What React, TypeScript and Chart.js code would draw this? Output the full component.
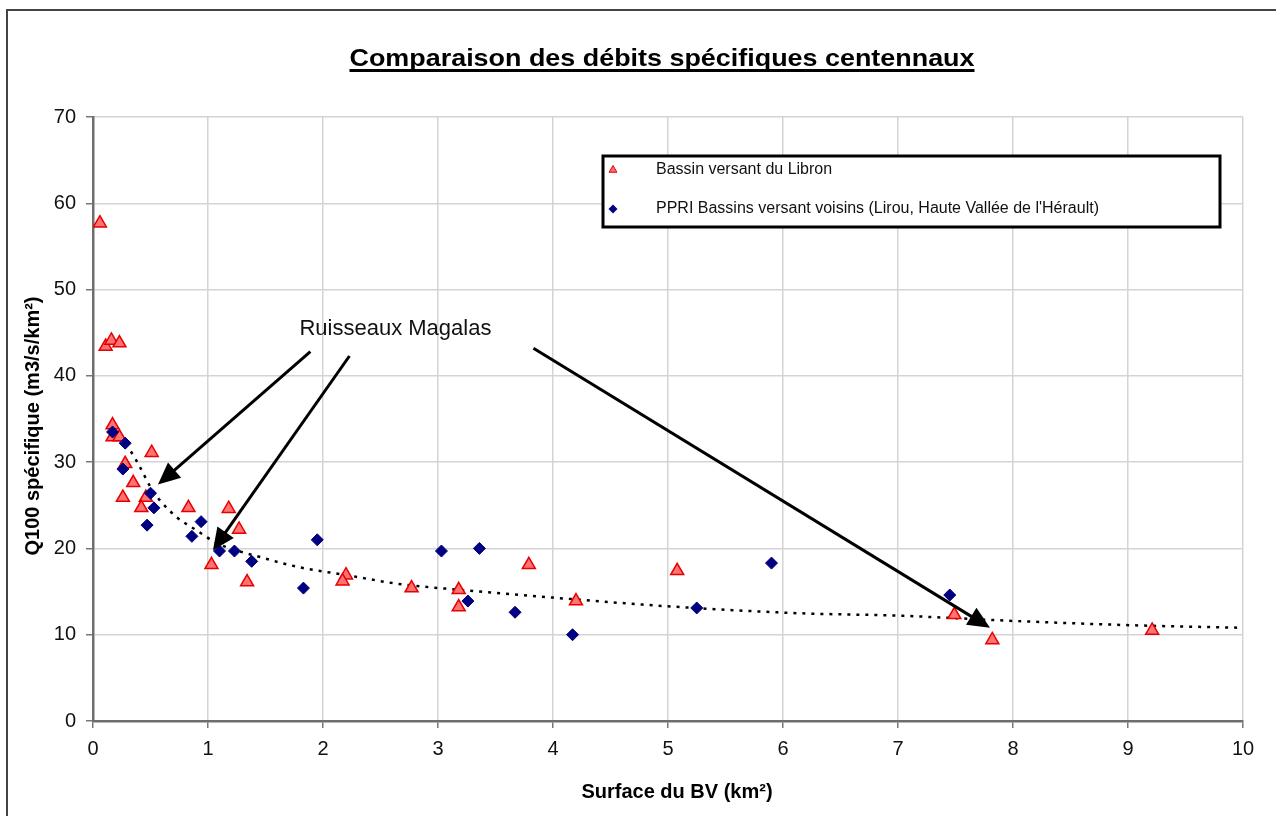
import React, { useEffect, useRef } from "react";
import { Chart, registerables } from "chart.js";

Chart.register(...registerables);

// ---- Data ----
const titleText = "Comparaison des débits spécifiques centennaux";
const xAxisTitle = "Surface du BV (km²)";
const yAxisTitle = "Q100 spécifique (m3/s/km²)";
const libronLabel = "Bassin versant du Libron";
const ppriLabel = "PPRI Bassins versant voisins (Lirou, Haute Vallée de l'Hérault)";
const annotationText = "Ruisseaux Magalas";

const libronX = [0.06, 0.11, 0.16, 0.23, 0.17, 0.17, 0.23, 0.28, 0.51, 0.35, 0.26, 0.46, 0.42, 0.83, 1.18, 1.27, 1.03, 1.34, 2.2, 2.17, 2.77, 3.18, 3.18, 3.79, 4.2, 5.08, 7.49, 7.82, 9.21];
const libronY = [57.7, 43.4, 44.1, 43.8, 34.3, 32.9, 32.9, 29.8, 31.1, 27.6, 25.9, 25.9, 24.7, 24.7, 24.6, 22.2, 18.1, 16.1, 16.9, 16.2, 15.4, 15.2, 13.2, 18.1, 13.9, 17.4, 12.3, 9.4, 10.5];

const ppriX = [0.17, 0.28, 0.26, 0.5, 0.53, 0.47, 0.94, 0.86, 1.1, 1.23, 1.38, 1.95, 1.83, 3.03, 3.36, 3.26, 3.67, 4.17, 5.25, 5.9, 7.45];
const ppriY = [33.5, 32.2, 29.2, 26.4, 24.7, 22.7, 23.1, 21.4, 19.7, 19.7, 18.5, 21.0, 15.4, 19.7, 20.0, 13.9, 12.6, 10.0, 13.1, 18.3, 14.6];

const trendX = [0.17, 0.32, 0.41, 0.5, 0.58, 0.73, 0.9, 1.08, 1.48, 1.8, 2.21, 2.65, 3.19, 4.0, 4.99, 6.12, 7.02, 8.0, 9.02, 10];
const trendY = [33.5, 31.4, 29.4, 27.1, 25.6, 23.6, 22.1, 20.6, 18.9, 17.8, 16.9, 15.9, 15.2, 14.3, 13.3, 12.5, 12.2, 11.6, 11.1, 10.8];

// arrows (data coordinates): start -> tip
const arrowFromX = [1.89, 2.23, 3.83];
const arrowFromY = [42.8, 42.3, 43.2];
const arrowToX = [0.565, 1.043, 7.8];
const arrowToY = [27.4, 19.8, 10.8];
const annotationX = 2.63;
const annotationY = 45.4;

const xTicks = [0, 1, 2, 3, 4, 5, 6, 7, 8, 9, 10];
const yTicks = [0, 10, 20, 30, 40, 50, 60, 70];

const FONT = "'Liberation Sans', Arial, sans-serif";

const toPoints = (xs: number[], ys: number[]) => xs.map((x, i) => ({ x, y: ys[i] }));

function drawArrow(ctx: CanvasRenderingContext2D, x1: number, y1: number, x2: number, y2: number) {
  const ang = Math.atan2(y2 - y1, x2 - x1);
  const headLen = 22;
  const headHalf = 10;
  const bx = x2 - Math.cos(ang) * headLen;
  const by = y2 - Math.sin(ang) * headLen;
  ctx.save();
  ctx.strokeStyle = "#000";
  ctx.fillStyle = "#000";
  ctx.lineWidth = 3;
  ctx.beginPath();
  ctx.moveTo(x1, y1);
  ctx.lineTo(bx + Math.cos(ang) * 2, by + Math.sin(ang) * 2);
  ctx.stroke();
  ctx.beginPath();
  ctx.moveTo(x2, y2);
  ctx.lineTo(bx + Math.sin(ang) * headHalf, by - Math.cos(ang) * headHalf);
  ctx.lineTo(bx - Math.sin(ang) * headHalf, by + Math.cos(ang) * headHalf);
  ctx.closePath();
  ctx.fill();
  ctx.restore();
}

function fitText(ctx: CanvasRenderingContext2D, text: string, cx: number, y: number, targetW: number) {
  const w = ctx.measureText(text).width;
  const s = targetW / w;
  ctx.save();
  ctx.translate(cx, y);
  ctx.scale(s, 1);
  ctx.textAlign = "center";
  ctx.fillText(text, 0, 0);
  ctx.restore();
}

const decorPlugin = {
  id: "decor",
  beforeDraw(chart: any) {
    const ctx = chart.ctx as CanvasRenderingContext2D;
    ctx.save();
    ctx.fillStyle = "#fff";
    ctx.fillRect(0, 0, chart.width, chart.height);
    ctx.restore();
  },
  afterDraw(chart: any) {
    const ctx = chart.ctx as CanvasRenderingContext2D;
    const xs = chart.scales.x;
    const ys = chart.scales.y;
    ctx.save();

    // outer frame
    ctx.strokeStyle = "#444";
    ctx.lineWidth = 2;
    ctx.beginPath();
    ctx.moveTo(chart.width, 10);
    ctx.lineTo(7, 10);
    ctx.lineTo(7, chart.height);
    ctx.stroke();

    // title
    ctx.fillStyle = "#000";
    ctx.font = `bold 24px ${FONT}`;
    ctx.textBaseline = "alphabetic";
    const tcx = 662;
    const titleW = 625;
    fitText(ctx, titleText, tcx, 66, titleW);
    ctx.fillRect(tcx - titleW / 2, 69, titleW, 3);

    // axis titles
    ctx.font = `bold 20px ${FONT}`;
    ctx.textBaseline = "middle";
    ctx.textAlign = "center";
    ctx.fillText(xAxisTitle, 677, 792);
    ctx.save();
    ctx.translate(33, 426);
    ctx.rotate(-Math.PI / 2);
    ctx.fillText(yAxisTitle, 0, 0);
    ctx.restore();

    // legend box
    const lx = 603, ly = 156, lw = 617, lh = 71;
    ctx.fillStyle = "#fff";
    ctx.fillRect(lx, ly, lw, lh);
    ctx.strokeStyle = "#000";
    ctx.lineWidth = 3;
    ctx.strokeRect(lx, ly, lw, lh);
    // legend markers
    const r = 4.5;
    ctx.lineWidth = 1;
    ctx.fillStyle = "rgba(255,110,110,1)";
    ctx.strokeStyle = "#e00000";
    ctx.beginPath();
    ctx.moveTo(613, 170 - r);
    ctx.lineTo(613 + r * 0.87, 170 + r / 2);
    ctx.lineTo(613 - r * 0.87, 170 + r / 2);
    ctx.closePath();
    ctx.fill();
    ctx.stroke();
    ctx.fillStyle = "#000080";
    ctx.beginPath();
    ctx.moveTo(613, 209 - r);
    ctx.lineTo(613 + r, 209);
    ctx.lineTo(613, 209 + r);
    ctx.lineTo(613 - r, 209);
    ctx.closePath();
    ctx.fill();
    // legend text
    ctx.fillStyle = "#111";
    ctx.font = `16px ${FONT}`;
    ctx.textAlign = "left";
    ctx.textBaseline = "middle";
    ctx.fillText(libronLabel, 656, 170);
    ctx.fillText(ppriLabel, 656, 209);

    // annotation
    ctx.font = `22px ${FONT}`;
    ctx.textAlign = "center";
    ctx.fillStyle = "#111";
    ctx.fillText(annotationText, xs.getPixelForValue(annotationX), ys.getPixelForValue(annotationY));
    for (let i = 0; i < arrowFromX.length; i++) {
      drawArrow(
        ctx,
        xs.getPixelForValue(arrowFromX[i]),
        ys.getPixelForValue(arrowFromY[i]),
        xs.getPixelForValue(arrowToX[i]),
        ys.getPixelForValue(arrowToY[i])
      );
    }
    ctx.restore();
  },
};

export default function App() {
  const canvasRef = useRef<HTMLCanvasElement | null>(null);

  useEffect(() => {
    if (!canvasRef.current) return;
    const chart = new Chart(canvasRef.current, {
      type: "scatter",
      data: {
        datasets: [
          {
            label: libronLabel,
            data: toPoints(libronX, libronY),
            pointStyle: "triangle",
            pointRadius: 7.5,
            pointHoverRadius: 7.5,
            backgroundColor: "rgba(255,115,115,1)",
            borderColor: "#e80000",
            borderWidth: 1.5,
            order: 2,
          },
          {
            label: ppriLabel,
            data: toPoints(ppriX, ppriY),
            pointStyle: "rectRot",
            pointRadius: 6,
            pointHoverRadius: 6,
            backgroundColor: "#000080",
            borderColor: "#000080",
            borderWidth: 1,
            order: 1,
          },
          {
            label: "trend",
            data: toPoints(trendX, trendY),
            showLine: true,
            pointRadius: 0,
            borderColor: "#000",
            borderWidth: 2.5,
            borderDash: [3, 6],
            cubicInterpolationMode: "monotone",
            fill: false,
            order: 3,
          } as any,
        ],
      },
      options: {
        responsive: false,
        animation: false,
        events: [],
        layout: { padding: { left: 0, right: 33, top: 117, bottom: 0 } },
        plugins: {
          legend: { display: false },
          title: { display: false },
          tooltip: { enabled: false },
        },
        scales: {
          x: {
            type: "linear",
            min: 0,
            max: 10,
            afterBuildTicks: (s: any) => {
              s.ticks = xTicks.map((v) => ({ value: v }));
            },
            afterFit: (s: any) => {
              s.height = 95;
            },
            ticks: {
              font: { family: FONT, size: 20 },
              color: "#111",
              padding: 9,
              maxRotation: 0,
            },
            grid: { color: "#d4d4d4", lineWidth: 1.5, tickLength: 7, tickColor: "#777" },
            border: { color: "#6e6e6e", width: 2.5 },
          },
          y: {
            type: "linear",
            min: 0,
            max: 70,
            afterBuildTicks: (s: any) => {
              s.ticks = yTicks.map((v) => ({ value: v }));
            },
            afterFit: (s: any) => {
              s.width = 93;
            },
            ticks: {
              font: { family: FONT, size: 20 },
              color: "#111",
              padding: 10,
            },
            grid: { color: "#d4d4d4", lineWidth: 1.5, tickLength: 7, tickColor: "#777" },
            border: { color: "#6e6e6e", width: 2.5 },
          },
        },
      },
      plugins: [decorPlugin],
    } as any);
    return () => chart.destroy();
  }, []);

  return (
    <div style={{ position: "fixed", left: 0, top: 0, width: 1276, height: 816, background: "#fff" }}>
      <canvas ref={canvasRef} width={1276} height={816} style={{ display: "block", width: 1276, height: 816 }} />
    </div>
  );
}
